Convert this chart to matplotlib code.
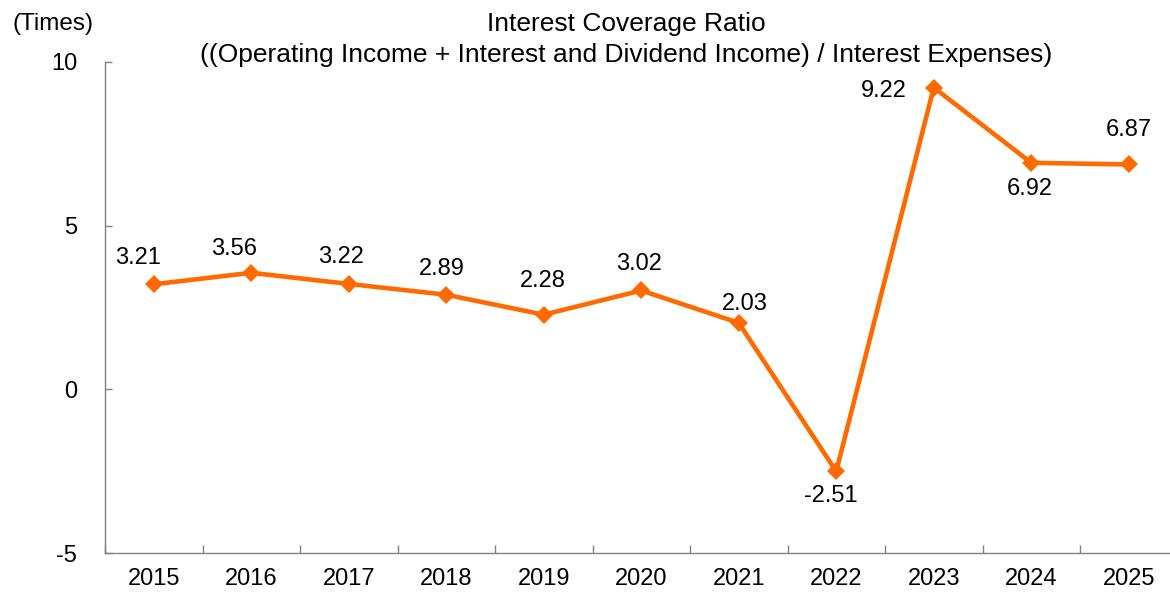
import matplotlib
matplotlib.use("Agg")
import matplotlib.pyplot as plt
import numpy as np

plt.rcParams['font.family'] = ['Liberation Sans', 'DejaVu Sans']

years = ["2015", "2016", "2017", "2018", "2019", "2020", "2021", "2022", "2023", "2024", "2025"]
ratio = [3.21, 3.56, 3.22, 2.89, 2.28, 3.02, 2.03, -2.51, 9.22, 6.92, 6.87]
value_labels = ["3.21", "3.56", "3.22", "2.89", "2.28", "3.02", "2.03", "-2.51", "9.22", "6.92", "6.87"]
y_ticks = [-5, 0, 5, 10]

# label offsets in pixels (dx, dy)
offsets = [(-16, 26), (-17, 24), (-8, 27), (-4, 26), (-1, 34), (-2, 26), (6, 19),
           (-5, -25), (-50, -3), (-1, -26), (0, 34)]

W, H = 1170, 594
fig = plt.figure(figsize=(W / 100, H / 100), dpi=100)
left, right, top, bottom = 105, 1177.5, 62, 553
ax = fig.add_axes([left / W, (H - bottom) / H, (right - left) / W, (bottom - top) / H])

x = np.arange(len(years))
color = "#FF6A00"
ax.plot(x, ratio, color=color, lw=3.3, marker="D", markersize=9, markeredgewidth=0, zorder=3)

for xi, yi, lab, (dx, dy) in zip(x, ratio, value_labels, offsets):
    ax.annotate(lab, (xi, yi), xytext=(dx, dy), textcoords="offset pixels",
                ha="center", va="center", fontsize=17, color="black")

ax.set_xlim(-0.5, len(years) - 0.5)
ax.set_ylim(-5, 10)
ax.set_yticks(y_ticks)
ax.set_yticklabels([str(t) for t in y_ticks], fontsize=17)
ax.set_xticks(x)
ax.set_xticklabels(years, fontsize=17)
ax.set_xticks(np.arange(len(years) + 1) - 0.5, minor=True)

ax.tick_params(axis="x", which="major", length=0, pad=11)
ax.tick_params(axis="x", which="minor", direction="in", length=6, width=1, color="#808080")
ax.tick_params(axis="y", which="major", direction="in", length=5, width=1, color="#808080", pad=20)

for s in ["top", "right"]:
    ax.spines[s].set_visible(False)
for s in ["left", "bottom"]:
    ax.spines[s].set_color("#808080")
    ax.spines[s].set_linewidth(1.0)

fig.text(626 / W, 1 - 24 / H, "Interest Coverage Ratio", ha="center", va="center", fontsize=19)
fig.text(626 / W, 1 - 55 / H, "((Operating Income + Interest and Dividend Income) / Interest Expenses)",
         ha="center", va="center", fontsize=19)
fig.text(12 / W, 1 - 24 / H, "(Times)", ha="left", va="center", fontsize=17.5)

fig.savefig("out.png", dpi=100)
